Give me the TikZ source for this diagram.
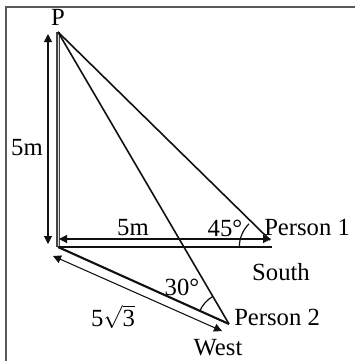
\documentclass[tikz,border=0pt]{standalone}
\usepackage{fontspec}
\setmainfont{Liberation Serif}
\usepackage{xcolor}
\definecolor{cLine}{HTML}{111111}
\definecolor{cPole}{HTML}{444444}
\definecolor{cFrame}{HTML}{5A5A5A}
\usetikzlibrary{positioning,arrows.meta,angles,calc}
\tikzset{
  node-label/.style={inner sep=0pt,font=\fontsize{18.5}{20}\selectfont},
  line-pole/.style={draw=cPole,line width=0.9pt,double=white!70!gray,double distance=0.6pt},
  line-ground/.style={draw=cLine,line width=1.6pt},
  line-sight/.style={draw=cLine,line width=1.2pt},
  arrow-dim/.style={{Triangle[length=6pt,width=6pt]}-{Triangle[length=6pt,width=6pt]},
    draw=cLine,line width=0.8pt},
  arc-angle/.style={draw=cLine,line width=0.9pt},
}

\begin{document}
\begin{tikzpicture}[x=0.75pt,y=-0.75pt]
  \useasboundingbox (0,0) rectangle (355,361);
  % frame
  \draw[cFrame,line width=1.2pt] (355,7) -- (6,7) -- (6,361);
  % points
  \coordinate (p) at (58,32);
  \coordinate (o) at (58,247);
  \coordinate (person1) at (272,247);
  \coordinate (person2) at (229,324);
  \coordinate (eye1) at (270,240);
  % dimension ends
  \coordinate (vtop) at (48,34);
  \coordinate (vbot) at (48,244);
  \coordinate (hleft) at (59,239);
  \coordinate (hright) at (271,239);
  \coordinate (sstart) at (53,256);
  \coordinate (send) at (222,331);
  % pole and ground
  \draw[line-pole] (p) -- (o);
  \draw[line-ground] (o) -- (person1);
  \draw[line-ground] (o) -- (person2);
  \draw[line-sight] (p) -- (eye1);
  \draw[line-sight] (p) -- (person2);
  % dimensions
  \draw[arrow-dim] (vtop) -- (vbot);
  \draw[arrow-dim] (hleft) -- (hright);
  \draw[arrow-dim] (sstart) -- (send);
  % angles
  \pic[arc-angle,angle radius=24.5pt] {angle=p--person1--o};
  \pic[arc-angle,angle radius=24pt] {angle=p--person2--o};
  % labels
  \node[node-label] (lp) at (58,17) {P};
  \node[node-label] (lh) at (27,148) {5m};
  \node[node-label] (lb) at (133,228) {5m};
  \node[node-label] (l45) at (225,228) {45°};
  \node[node-label,anchor=west] (lp1) at (264,227) {Person 1};
  \node[node-label] (ls) at (281,272) {South};
  \node[node-label] (l30) at (182,287) {30°};
  \node[node-label,anchor=west] (lp2) at (234,317) {Person 2};
  \node[node-label] (lr) at (113,317) {5$\sqrt{\hbox{3}}$};
  \node[node-label] (lw) at (218,348) {West};
\end{tikzpicture}
\end{document}
